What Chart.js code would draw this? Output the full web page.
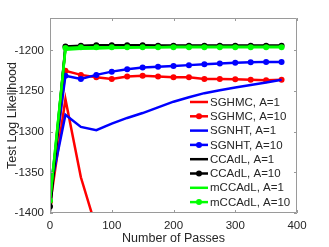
<!DOCTYPE html>
<html>
<head>
<meta charset="utf-8">
<script src="https://cdn.jsdelivr.net/npm/chart.js@4/dist/chart.umd.min.js"></script>
<style>
  html, body { margin: 0; padding: 0; background: #fff; }
  #chart { display: block; }
</style>
</head>
<body>
<canvas id="chart" width="329" height="247"></canvas>
<script>
// number of passes (x values)
const passes = [0, 25, 50, 75, 100, 125, 150, 175, 200, 225, 250, 275, 300, 325, 350, 375]

// test log likelihood per method
const sghmcA1 = [-1390, -1260, -1356, -1419]
const sghmcA10 = [-1386, -1225, -1230, -1233, -1235, -1232, -1231, -1232, -1233, -1233, -1235, -1235, -1235.5, -1236, -1236.5, -1236]
const sgnhtA1 = [-1373, -1279, -1294, -1298, -1290, -1283, -1277, -1270, -1263, -1257.5, -1252.5, -1249, -1245.5, -1242.5, -1239.5, -1236]
const sgnhtA10 = [-1374, -1231, -1235, -1230, -1226, -1223, -1221, -1220, -1219, -1218, -1217, -1216, -1215, -1214.5, -1214, -1214]
const ccadlA1 = [-1398, -1196, -1195, -1194.5, -1194.5, -1194, -1194, -1194, -1194, -1194, -1194, -1194, -1194, -1194, -1194, -1194]
const ccadlA10 = [-1392, -1195, -1194, -1193.5, -1193.5, -1193.5, -1193.5, -1194, -1194, -1194, -1194, -1194, -1194, -1194, -1194, -1194]
const mccadlA1 = [-1384, -1199, -1198, -1197.5, -1197, -1196.5, -1196, -1196, -1195.5, -1195.5, -1195.5, -1195.5, -1195.5, -1195.5, -1195.5, -1195.5]
const mccadlA10 = [-1385, -1197, -1196, -1196, -1196, -1196, -1196, -1196, -1196, -1196, -1196, -1196, -1196, -1196, -1196, -1196]

const xTicks = [0, 100, 200, 300, 400]
const yTicks = [-1400, -1350, -1300, -1250, -1200]

const FONT = "'Liberation Sans', Arial, Helvetica, sans-serif"
const AXIS_GREY = "#9a9a9a"
const TEXT = "#262626"

function pts(ys) {
  return ys.map((y, i) => ({ x: passes[i], y: y }))
}

function series(label, ys, color, markers) {
  return {
    label: label,
    data: pts(ys),
    borderColor: color,
    backgroundColor: color,
    borderWidth: 2.5,
    pointRadius: markers ? 3 : 0,
    pointBorderWidth: 0,
    pointBackgroundColor: color,
    tension: 0,
    fill: false
  }
}

const datasets = [
  series("SGHMC, A=1", sghmcA1, "#ff0000", false),
  series("SGHMC, A=10", sghmcA10, "#ff0000", true),
  series("SGNHT, A=1", sgnhtA1, "#0000ff", false),
  series("SGNHT, A=10", sgnhtA10, "#0000ff", true),
  series("CCAdL, A=1", ccadlA1, "#000000", false),
  series("CCAdL, A=10", ccadlA10, "#000000", true),
  series("mCCAdL, A=1", mccadlA1, "#00ff00", false),
  series("mCCAdL, A=10", mccadlA10, "#00ff00", true)
]
// later series drawn on top, like the original
datasets.forEach((d, i) => { d.order = datasets.length - i })

// box around the plot with small inward ticks
const boxPlugin = {
  id: "box",
  afterDatasetsDraw(chart) {
    const { ctx, chartArea: a, scales } = chart
    ctx.save()
    ctx.strokeStyle = AXIS_GREY
    ctx.lineWidth = 1
    ctx.beginPath()
    ctx.rect(a.left + 0.5, a.top + 0.5, a.right - a.left - 1, a.bottom - a.top - 1)
    const len = 3
    xTicks.forEach(v => {
      const x = Math.round(scales.x.getPixelForValue(v)) + 0.5
      ctx.moveTo(x, a.bottom); ctx.lineTo(x, a.bottom - len)
      ctx.moveTo(x, a.top); ctx.lineTo(x, a.top + len)
    })
    yTicks.forEach(v => {
      const y = Math.round(scales.y.getPixelForValue(v)) + 0.5
      ctx.moveTo(a.left, y); ctx.lineTo(a.left + len, y)
      ctx.moveTo(a.right, y); ctx.lineTo(a.right - len, y)
    })
    ctx.stroke()
    ctx.restore()
  }
}

// legend drawn inside the plot, bottom right
const insideLegend = {
  id: "insideLegend",
  afterDraw(chart, args, opts) {
    const { ctx } = chart
    const sets = chart.data.datasets
    ctx.save()
    ctx.font = "11.5px " + FONT
    ctx.textBaseline = "middle"
    sets.forEach((d, i) => {
      const y = opts.y + i * opts.row
      ctx.strokeStyle = d.borderColor
      ctx.lineWidth = 2.5
      ctx.beginPath()
      ctx.moveTo(opts.x, y)
      ctx.lineTo(opts.x + 18, y)
      ctx.stroke()
      if (d.pointRadius > 0) {
        ctx.fillStyle = d.borderColor
        ctx.beginPath()
        ctx.arc(opts.x + 9, y, 3, 0, Math.PI * 2)
        ctx.fill()
      }
      ctx.fillStyle = TEXT
      ctx.fillText(d.label, opts.x + 20, y + 0.5)
    })
    ctx.restore()
  }
}

new Chart(document.getElementById("chart"), {
  type: "line",
  data: { datasets: datasets },
  plugins: [boxPlugin, insideLegend],
  options: {
    responsive: false,
    devicePixelRatio: 1,
    animation: false,
    layout: { padding: { top: 18, right: 32, left: 0, bottom: 0 } },
    plugins: {
      legend: { display: false },
      tooltip: { enabled: false },
      insideLegend: { x: 190, y: 102, row: 14.3 }
    },
    scales: {
      x: {
        type: "linear",
        min: 0,
        max: 400,
        grid: { display: false, drawTicks: false },
        border: { display: false },
        afterFit: s => { s.height = 34 },
        afterBuildTicks: s => { s.ticks = xTicks.map(v => ({ value: v })) },
        ticks: { padding: 6, color: TEXT, font: { family: FONT, size: 11.5 }, maxRotation: 0, callback: v => String(v) },
        title: { display: true, text: "Number of Passes", color: TEXT, font: { family: FONT, size: 12.5 }, padding: { top: 0, bottom: 1 } }
      },
      y: {
        type: "linear",
        min: -1400,
        max: -1160,
        grid: { display: false, drawTicks: false },
        border: { display: false },
        afterFit: s => { s.width = 50 },
        afterBuildTicks: s => { s.ticks = yTicks.map(v => ({ value: v })) },
        ticks: { padding: 6, color: TEXT, font: { family: FONT, size: 11.5 }, callback: v => String(v) },
        title: { display: true, text: "Test Log Likelihood", color: TEXT, font: { family: FONT, size: 12.5 }, padding: { top: 5, bottom: 0 } }
      }
    }
  }
})
</script>
</body>
</html>
